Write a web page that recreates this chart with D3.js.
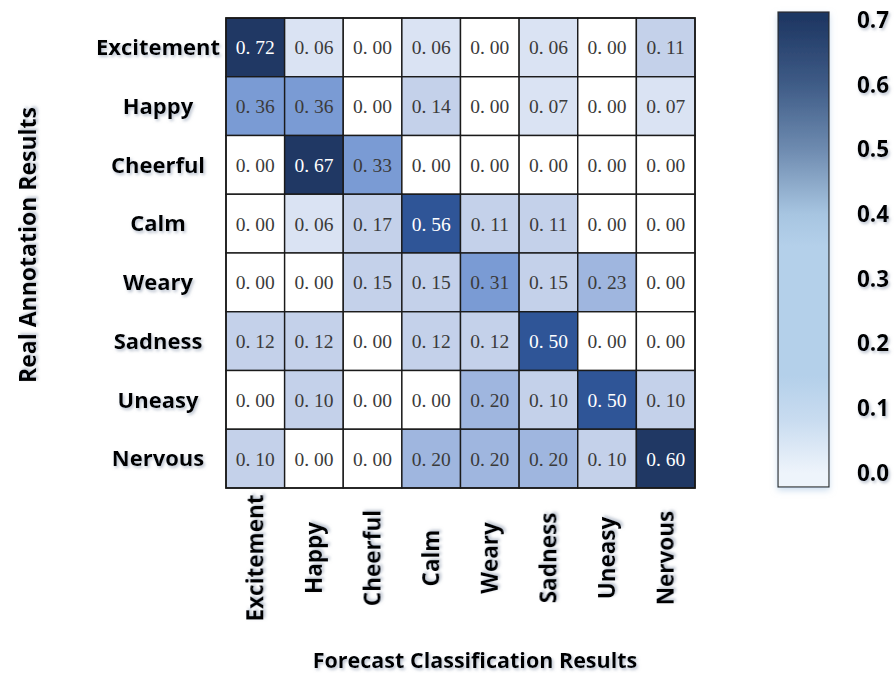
<!DOCTYPE html>
<html>
<head>
<meta charset="utf-8">
<script src="https://cdn.jsdelivr.net/npm/d3@7/dist/d3.min.js"></script>
<style>
  html, body { margin: 0; padding: 0; background: #ffffff; }
  svg { display: block; }
</style>
</head>
<body>
<svg id="chart" width="895" height="679"></svg>
<script>
// Emotion classes (rows = real annotation, columns = forecast classification)
const realLabels = ["Excitement", "Happy", "Cheerful", "Calm", "Weary", "Sadness", "Uneasy", "Nervous"];
const forecastLabels = ["Excitement", "Happy", "Cheerful", "Calm", "Weary", "Sadness", "Uneasy", "Nervous"];

// Row-normalised confusion matrix
const excitementRow = [0.72, 0.06, 0.00, 0.06, 0.00, 0.06, 0.00, 0.11];
const happyRow      = [0.36, 0.36, 0.00, 0.14, 0.00, 0.07, 0.00, 0.07];
const cheerfulRow   = [0.00, 0.67, 0.33, 0.00, 0.00, 0.00, 0.00, 0.00];
const calmRow       = [0.00, 0.06, 0.17, 0.56, 0.11, 0.11, 0.00, 0.00];
const wearyRow      = [0.00, 0.00, 0.15, 0.15, 0.31, 0.15, 0.23, 0.00];
const sadnessRow    = [0.12, 0.12, 0.00, 0.12, 0.12, 0.50, 0.00, 0.00];
const uneasyRow     = [0.00, 0.10, 0.00, 0.00, 0.20, 0.10, 0.50, 0.10];
const nervousRow    = [0.10, 0.00, 0.00, 0.20, 0.20, 0.20, 0.10, 0.60];
const matrixRows = [excitementRow, happyRow, cheerfulRow, calmRow, wearyRow, sadnessRow, uneasyRow, nervousRow];

// Colour bar ticks
const legendTicks = [0.0, 0.1, 0.2, 0.3, 0.4, 0.5, 0.6, 0.7];

const svg = d3.select("#chart");
const defs = svg.append("defs");

// soft shadow under bold labels
const shadow = defs.append("filter").attr("id", "soft").attr("x", "-20%").attr("y", "-20%")
  .attr("width", "140%").attr("height", "150%");
shadow.append("feDropShadow").attr("dx", 1.5).attr("dy", 2).attr("stdDeviation", 1.6)
  .attr("flood-color", "#7f8fa6").attr("flood-opacity", 0.55);

const boxShadow = defs.append("filter").attr("id", "boxsoft").attr("x", "-30%").attr("y", "-5%")
  .attr("width", "160%").attr("height", "110%");
boxShadow.append("feDropShadow").attr("dx", 0).attr("dy", 3).attr("stdDeviation", 3)
  .attr("flood-color", "#9fbfe0").attr("flood-opacity", 0.5);

const grid = { left: 226, right: 695, top: 18, bottom: 488 };

const x = d3.scaleBand().domain(forecastLabels).range([grid.left, grid.right]).padding(0);
const y = d3.scaleBand().domain(realLabels).range([grid.top, grid.bottom]).padding(0);

const cellColor = d3.scaleThreshold()
  .domain([0.005, 0.08, 0.18, 0.28, 0.45, 0.58])
  .range(["#ffffff", "#dae3f3", "#c4d1ea", "#9fb6df", "#7a9bd4", "#2f5597", "#203864"]);

const cells = [];
matrixRows.forEach((row, i) => {
  row.forEach((v, j) => cells.push({ real: realLabels[i], forecast: forecastLabels[j], value: v }));
});

const cellG = svg.append("g");
cellG.selectAll("rect")
  .data(cells)
  .join("rect")
  .attr("x", d => x(d.forecast))
  .attr("y", d => y(d.real))
  .attr("width", x.bandwidth())
  .attr("height", y.bandwidth())
  .attr("fill", d => cellColor(d.value))
  .attr("stroke", "#1a1a1a")
  .attr("stroke-width", 1.4);

const fmt = d3.format(".2f");
cellG.selectAll("text")
  .data(cells)
  .join("text")
  .attr("x", d => x(d.forecast) + x.bandwidth() / 2)
  .attr("y", d => y(d.real) + y.bandwidth() / 2)
  .attr("dy", "0.36em")
  .attr("text-anchor", "middle")
  .attr("font-family", "'Liberation Serif', 'DejaVu Serif', serif")
  .attr("font-size", 19.5)
  .attr("fill", d => d.value >= 0.45 ? "#ffffff" : "#3a3a3a")
  .text(d => fmt(d.value).replace(".", ". "));

cellG.append("rect")
  .attr("x", grid.left).attr("y", grid.top)
  .attr("width", grid.right - grid.left).attr("height", grid.bottom - grid.top)
  .attr("fill", "none").attr("stroke", "#1a1a1a").attr("stroke-width", 1.6);

const labelFont = "'Open Sans', Lato, sans-serif";

// row labels
svg.append("g").selectAll("text")
  .data(realLabels)
  .join("text")
  .attr("x", 158)
  .attr("y", d => y(d) + y.bandwidth() / 2)
  .attr("dy", "0.35em")
  .attr("text-anchor", "middle")
  .attr("font-family", labelFont)
  .attr("font-weight", "bold")
  .attr("font-size", 22)
  .attr("fill", "#000")
  .attr("filter", "url(#soft)")
  .text(d => d);

// column labels
svg.append("g").selectAll("text")
  .data(forecastLabels)
  .join("text")
  .attr("transform", d => `translate(${x(d) + x.bandwidth() / 2},558) rotate(-90)`)
  .attr("dy", "0.35em")
  .attr("text-anchor", "middle")
  .attr("font-family", labelFont)
  .attr("font-weight", "bold")
  .attr("font-size", 22.5)
  .attr("fill", "#000")
  .attr("filter", "url(#soft)")
  .text(d => d);

// axis titles
svg.append("text")
  .attr("transform", "translate(28,245) rotate(-90)")
  .attr("dy", "0.35em")
  .attr("text-anchor", "middle")
  .attr("font-family", labelFont)
  .attr("font-weight", "bold")
  .attr("font-size", 23)
  .attr("filter", "url(#soft)")
  .text("Real Annotation Results");

svg.append("text")
  .attr("x", 475).attr("y", 668)
  .attr("text-anchor", "middle")
  .attr("font-family", labelFont)
  .attr("font-weight", "bold")
  .attr("font-size", 21.5)
  .attr("filter", "url(#soft)")
  .text("Forecast Classification Results");

// colour bar
const bar = { x: 778, width: 51, top: 12, bottom: 487 };
const legendY = d3.scaleLinear().domain([0, 0.7]).range([473, 20]);

const gradStops = [
  [0.7, "#1f3864"], [0.6, "#3f5c87"], [0.5, "#6e8bb0"], [0.45, "#8ba8c8"],
  [0.4, "#a7c5e1"], [0.35, "#b4d0ea"], [0.15, "#b4d0ea"], [0.08, "#c9dcf0"], [0.0, "#eef4fb"]
];
const grad = defs.append("linearGradient").attr("id", "barGrad")
  .attr("x1", 0).attr("y1", 0).attr("x2", 0).attr("y2", 1);
grad.selectAll("stop")
  .data(gradStops)
  .join("stop")
  .attr("offset", d => Math.max(0, Math.min(1, (legendY(d[0]) - bar.top) / (bar.bottom - bar.top))))
  .attr("stop-color", d => d[1]);

svg.append("rect")
  .attr("x", bar.x).attr("y", bar.top)
  .attr("width", bar.width).attr("height", bar.bottom - bar.top)
  .attr("fill", "url(#barGrad)")
  .attr("stroke", "#2b2b2b").attr("stroke-width", 1.2)
  .attr("filter", "url(#boxsoft)");

svg.append("g").selectAll("text")
  .data(legendTicks)
  .join("text")
  .attr("x", 857)
  .attr("y", d => legendY(d))
  .attr("dy", "0.35em")
  .attr("font-family", labelFont)
  .attr("font-weight", "bold")
  .attr("font-size", 22.5)
  .attr("fill", "#000")
  .attr("filter", "url(#soft)")
  .text(d => d3.format(".1f")(d));
</script>
</body>
</html>
